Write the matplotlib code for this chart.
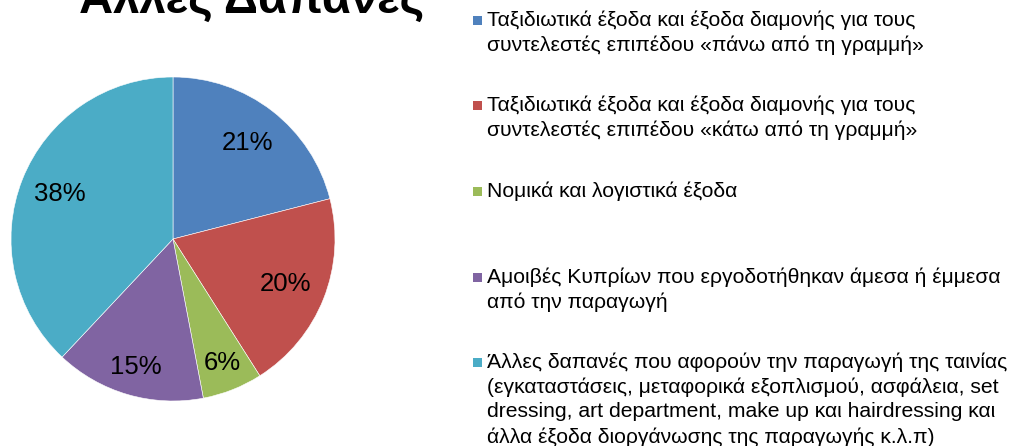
import numpy as np
import matplotlib.pyplot as plt
from matplotlib.patches import Rectangle

plt.rcParams['font.family'] = ['Liberation Sans', 'DejaVu Sans']

# Data
title = 'Άλλες Δαπάνες'
labels = [
    'Ταξιδιωτικά έξοδα και έξοδα διαμονής για τους\nσυντελεστές επιπέδου «πάνω από τη γραμμή»',
    'Ταξιδιωτικά έξοδα και έξοδα διαμονής για τους\nσυντελεστές επιπέδου «κάτω από τη γραμμή»',
    'Νομικά και λογιστικά έξοδα',
    'Αμοιβές Κυπρίων που εργοδοτήθηκαν άμεσα ή έμμεσα\nαπό την παραγωγή',
    'Άλλες δαπανές που αφορούν την παραγωγή της ταινίας\n(εγκαταστάσεις, μεταφορικά εξοπλισμού, ασφάλεια, set\ndressing, art department, make up και hairdressing και\nάλλα έξοδα διοργάνωσης της παραγωγής κ.λ.π)',
]
shares = [21, 20, 6, 15, 38]
colors = ['#4F81BD', '#C0504D', '#9BBB59', '#8064A2', '#4BACC6']

W, H = 1015, 446
fig = plt.figure(figsize=(W / 100, H / 100), dpi=100)

# Pie, centre (173,239) px, radius 162 px
cx, cy, r = 173, 239, 162
ax = fig.add_axes([(cx - r) / W, (H - cy - r) / H, 2 * r / W, 2 * r / H])
wedges, texts, autotexts = ax.pie(shares, colors=colors, startangle=90, counterclock=False,
                                  autopct='%1.0f%%', pctdistance=0.75, radius=1,
                                  wedgeprops=dict(edgecolor='white', linewidth=0.4),
                                  textprops=dict(fontsize=18.5, color='black'))
# Excel pushes the two small bottom labels a little further out
label_dist = [0.75, 0.75, 0.82, 0.82, 0.75]
for w, t, d in zip(wedges, autotexts, label_dist):
    ang = np.deg2rad((w.theta1 + w.theta2) / 2)
    t.set_position((d * np.cos(ang), d * np.sin(ang)))
ax.set_xlim(-1, 1)
ax.set_ylim(-1, 1)
ax.set_aspect('equal')
ax.axis('off')

# Title (partly cut off at the top)
fig.text(252 / W, 1 - 13 / H, title, ha='center', va='baseline',
         fontsize=34, fontweight='bold')

# Legend, drawn by hand so the marker sits on the first line
entry_y = [20, 105, 191, 277, 362]
for lab, col, y in zip(labels, colors, entry_y):
    fig.patches.append(Rectangle((473 / W, 1 - (y + 4.5) / H), 9 / W, 9 / H,
                                 transform=fig.transFigure, facecolor=col, edgecolor='none'))
    fig.text(487 / W, 1 - (y - 9.5) / H, lab, ha='left', va='top',
             fontsize=15.2, linespacing=1.36)

fig.savefig('out.png', dpi=100)
